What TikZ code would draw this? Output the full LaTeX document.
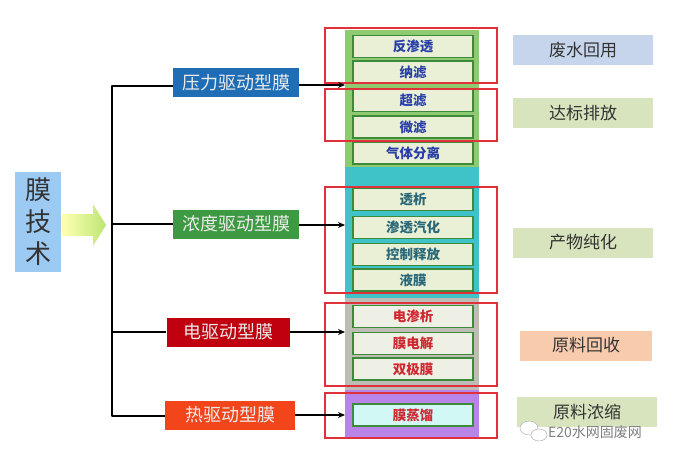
\documentclass[tikz,border=0pt]{standalone}
\usepackage{fontspec}
\newfontfamily\cjk{Noto Sans CJK SC}
\usetikzlibrary{arrows.meta,shapes.geometric}
\definecolor{presblue}{HTML}{1F6DB5}
\definecolor{concgreen}{HTML}{3E9A42}
\definecolor{elecred}{HTML}{C0000E}
\definecolor{heatred}{HTML}{F2461A}
\definecolor{panelgreen}{HTML}{8ECB70}
\definecolor{panelteal}{HTML}{3FC2C8}
\definecolor{panelgray}{HTML}{BDBDB5}
\definecolor{panelpurple}{HTML}{B984E8}
\definecolor{itemfill}{HTML}{E9F0D6}
\definecolor{itemfillb}{HTML}{EEF0E6}
\definecolor{itemcyan}{HTML}{D2F8F6}
\definecolor{itemedge}{HTML}{3D8A3A}
\definecolor{redframe}{HTML}{E0303A}
\definecolor{resblue}{HTML}{C6D5EB}
\definecolor{resgreen}{HTML}{D8E4BE}
\definecolor{resorange}{HTML}{F8CBAD}
\definecolor{leftblue}{HTML}{9CCAF2}
\definecolor{txtblue}{HTML}{2A3FA8}
\definecolor{txtteal}{HTML}{2A6878}
\definecolor{txtred}{HTML}{D02830}
\tikzset{
  cat/.style={draw=none, minimum width=126pt, minimum height=29pt, text=white!92!black, font=\cjk\fontsize{18}{18}\selectfont, inner sep=0pt},
  item/.style={draw=itemedge, line width=1.2pt, fill=itemfill, minimum width=120pt, minimum height=22pt, inner sep=0pt, font=\cjk\bfseries\fontsize{13.5}{13.5}\selectfont},
  res/.style={minimum width=140pt, minimum height=30pt, inner sep=0pt, text=black!80, font=\cjk\fontsize{17}{17}\selectfont},
  frame/.style={draw=redframe, line width=1.2pt},
  conn/.style={line width=1.8pt, black},
  arr/.style={line width=1.8pt, black, -{Stealth[length=7pt,width=6pt]}},
  bubble/.style={draw=black!35, fill=white, ellipse, inner sep=0pt}
}
\begin{document}
\begin{tikzpicture}[x=1pt,y=-1pt]
\useasboundingbox (0,0) rectangle (684,457);
\fill[white] (0,0) rectangle (684,457);

% left label
\node[fill=leftblue, minimum width=46pt, minimum height=100pt, inner sep=0pt, align=center, text=black!80, font=\cjk\fontsize{26}{32}\selectfont] (tech) at (38,222) {膜\\技\\术};
\shade[left color=yellow!30!white, right color=green!40!black!30!lime!55] (62,214) -- (93,214) -- (93,204) -- (106,225) -- (93,246) -- (93,236) -- (62,236) -- cycle;

% panels
\fill[panelgreen] (345,30) rectangle (479,167);
\fill[panelteal] (345,167) rectangle (479,298);
\fill[panelgray] (345,298) rectangle (479,390);
\fill[panelpurple] (345,390) rectangle (479,438);

% items
\node[item, text=txtblue] (i1) at (413,46.5) {反渗透};
\node[item, text=txtblue] (i2) at (413,72) {纳滤};
\node[item, text=txtblue] (i3) at (413,100.5) {超滤};
\node[item, text=txtblue] (i4) at (413,127) {微滤};
\node[item, text=txtblue] (i5) at (413,153) {气体分离};
\node[item, text=txtteal] (i6) at (413,199.5) {透析};
\node[item, text=txtteal] (i7) at (413,227.5) {渗透汽化};
\node[item, text=txtteal] (i8) at (413,254.5) {控制释放};
\node[item, text=txtteal] (i9) at (413,280) {液膜};
\node[item, fill=itemfillb, text=txtred] (i10) at (413,316.5) {电渗析};
\node[item, fill=itemfillb, text=txtred] (i11) at (413,343.5) {膜电解};
\node[item, fill=itemfillb, text=txtred] (i12) at (413,369) {双极膜};
\node[item, fill=itemcyan, text=txtred] (i13) at (413,415) {膜蒸馏};

% red frames
\draw[frame] (325,28) rectangle (497,83);
\draw[frame] (325,89) rectangle (497,141);
\draw[frame] (325,187) rectangle (497,293);
\draw[frame] (325,303) rectangle (497,386);
\draw[frame] (325,393) rectangle (497,438);

% categories
\node[cat, fill=presblue] (c1) at (236,82.5) {压力驱动型膜};
\node[cat, fill=concgreen] (c2) at (236,224) {浓度驱动型膜};
\node[cat, fill=elecred, minimum width=123pt] (c3) at (228,332) {电驱动型膜};
\node[cat, fill=heatred, minimum width=130pt] (c4) at (230,415) {热驱动型膜};

\coordinate (p1) at (345,85);
\coordinate (p2) at (345,225);
\coordinate (p3) at (345,332);
\coordinate (p4) at (345,415);
\coordinate (vt) at (112,86);
\coordinate (vb) at (112,416);

% trunk
\draw[conn, line join=round] (c1.west |- vt) -- (vt) -- (vb) -- (c4.west |- vb);
\draw[conn] (112,224) -- (c2.west);
\draw[conn] (112,332) -- (c3.west);

\draw[arr] (c1.east |- p1) -- (p1);
\draw[arr] (c2.east |- p2) -- (p2);
\draw[arr] (c3.east |- p3) -- (p3);
\draw[arr] (c4.east |- p4) -- (p4);

% results
\node[res, fill=resblue] (r1) at (583,50) {废水回用};
\node[res, fill=resgreen] (r2) at (583,113) {达标排放};
\node[res, fill=resgreen] (r3) at (583,242.5) {产物纯化};
\node[res, fill=resorange, minimum width=132pt] (r4) at (586,345.5) {原料回收};
\node[res, fill=resgreen] (r5) at (587,412) {原料浓缩};

% watermark
\node[bubble, minimum width=18pt, minimum height=14pt] (wc1) at (529,428) {};
\node[bubble, minimum width=16pt, minimum height=12pt] (wc2) at (539,435) {};
\node[font=\cjk\fontsize{14}{14}\selectfont, text=black!50, inner sep=0pt, anchor=west] (wm) at (548,432) {E20水网固废网};
\end{tikzpicture}
\end{document}
